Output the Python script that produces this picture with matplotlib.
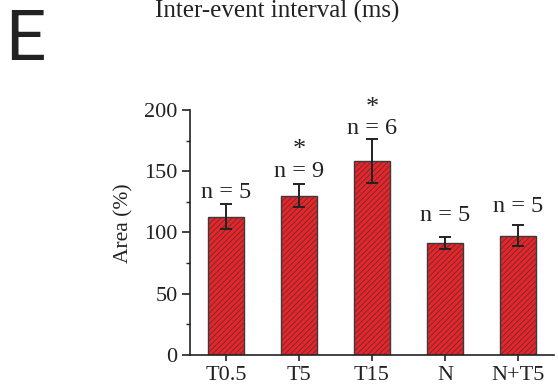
import matplotlib
matplotlib.use("Agg")
import matplotlib.pyplot as plt
from matplotlib.ticker import MultipleLocator

categories = ["T0.5", "T5", "T15", "N", "N+T5"]
values = [113, 130, 158, 91.5, 97.5]
errors = [10, 9.5, 18, 5, 8.5]
n_labels = ["n = 5", "n = 9", "n = 6", "n = 5", "n = 5"]
significant = [False, True, True, False, False]

# layout: gap (data units) between error-bar top and label baseline
label_gap = [5.5, 5.5, 4, 12.5, 10.5]

plt.rcParams['hatch.linewidth'] = 0.5
plt.rcParams['hatch.color'] = '#6e1214'
serif = ['Liberation Serif', 'DejaVu Serif']

fig = plt.figure(figsize=(5.58, 3.87), dpi=100)
ax = fig.add_axes([0.3405, 0.0827, 0.6523, 0.6331])

x = list(range(len(categories)))
ax.bar(x, values, width=0.5, color='#ea2328', edgecolor='#3a3a3a', linewidth=1.0,
       hatch='//////', zorder=2)
ax.errorbar(x, values, yerr=errors, fmt='none', ecolor='#222222', elinewidth=1.4,
            capsize=4, capthick=1.4, zorder=3)

for xi, v, e, lab, sig, g in zip(x, values, errors, n_labels, significant, label_gap):
    base = v + e + g
    ax.text(xi, base, lab, ha='center', va='baseline', fontsize=17.5, family=serif,
            color='#222222')
    if sig:
        ax.text(xi, base + 22, '*', ha='center', va='center', fontsize=19,
                family=serif, color='#222222')

ax.set_xlim(-0.49, 4.49)
ax.set_ylim(0, 200)
ax.set_xticks(x)
ax.set_xticklabels(categories, family=serif, fontsize=16, color='#222222')
ax.yaxis.set_major_locator(MultipleLocator(50))
ax.yaxis.set_minor_locator(MultipleLocator(25))
for lbl in ax.get_yticklabels():
    lbl.set_family(serif)
ax.tick_params(axis='y', which='major', length=6, width=1.2, labelsize=16,
               colors='#222222', pad=3)
ax.tick_params(axis='y', which='minor', length=3, width=1.0, colors='#222222')
ax.tick_params(axis='x', which='major', length=4, width=1.2, colors='#222222', pad=4)
ax.set_ylabel('Area (%)', family=serif, fontsize=15.5, color='#222222')
ax.yaxis.set_label_coords(-0.155, 0.54)

for s in ['top', 'right']:
    ax.spines[s].set_visible(False)
for s in ['left', 'bottom']:
    ax.spines[s].set_linewidth(1.2)
    ax.spines[s].set_color('#222222')

fig.text(0.497, 0.954, 'Inter-event interval (ms)', ha='center', va='baseline',
         fontsize=18, family=serif, color='#222222')
fig.text(0.010, 0.845, 'E', ha='left', va='baseline', fontsize=51,
         family=['Roboto', 'Liberation Sans', 'DejaVu Sans'], color='#222222')

fig.savefig('out.png', dpi=100)
